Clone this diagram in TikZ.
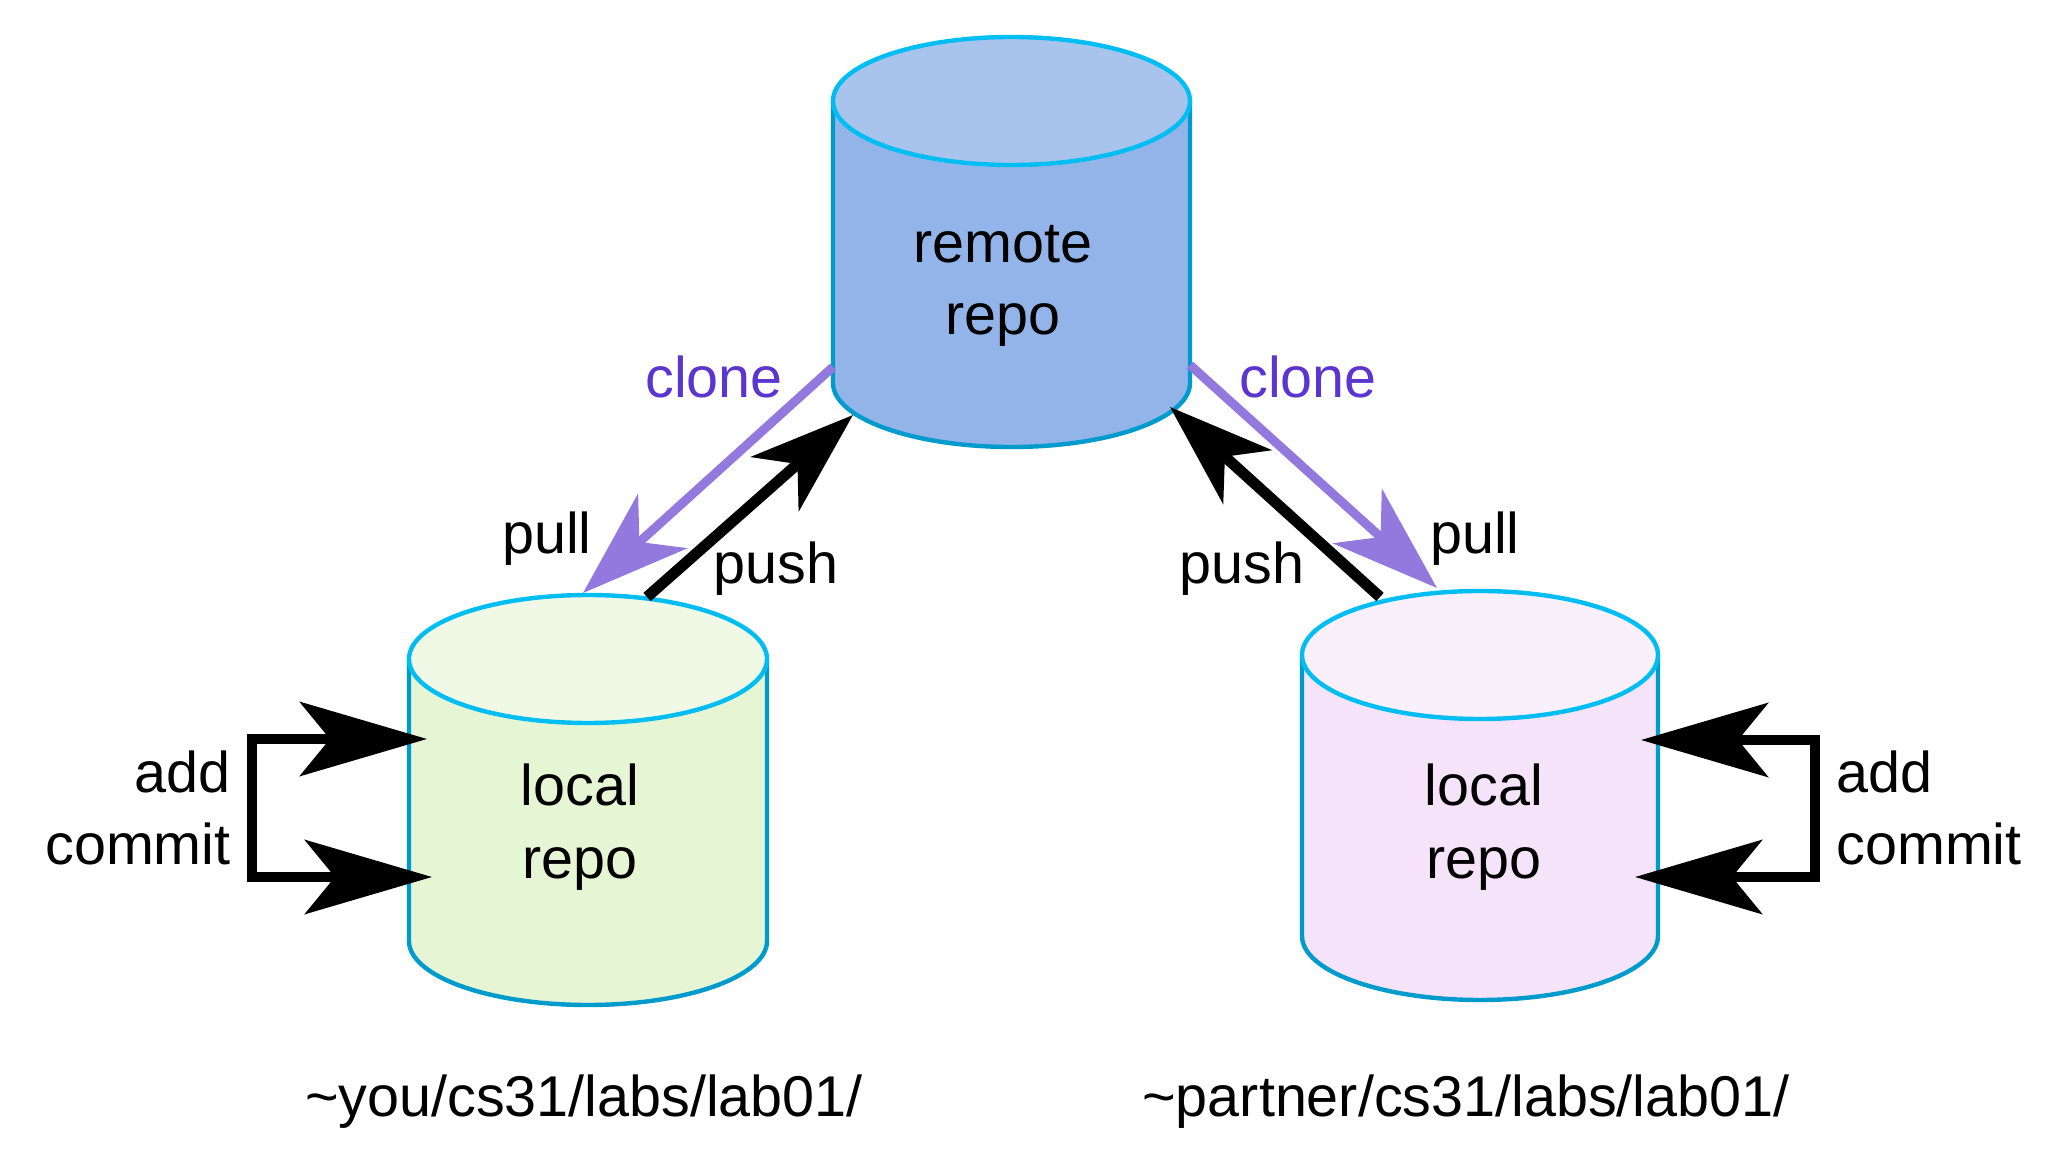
\documentclass[tikz,border=0pt]{standalone}
\usepackage{fontspec}
\setmainfont{Liberation Sans}
\usetikzlibrary{arrows.meta}
\definecolor{remBody}{HTML}{93B4E8}
\definecolor{remTop}{HTML}{A9C4EC}
\definecolor{youBody}{HTML}{E6F5D4}
\definecolor{youTop}{HTML}{F0F9E6}
\definecolor{parBody}{HTML}{F5E3F9}
\definecolor{parTop}{HTML}{FAF0FC}
\definecolor{topLine}{HTML}{00BEF2}
\definecolor{bodyLine}{HTML}{009BCD}
\definecolor{pullCol}{HTML}{9378DD}
\definecolor{cloneTxt}{HTML}{5A35CF}
\begin{document}
\begin{tikzpicture}[x=0.5pt,y=0.5pt,
  lbl/.style={font=\fontsize{28.75}{36}\selectfont, inner sep=0pt},
  bodyedge/.style={draw=bodyLine, line width=2.2pt},
  topedge/.style={draw=topLine, line width=2.2pt},
  pullarrow/.style={draw=pullCol, line width=4.5pt,
    -{Stealth[length=53.5pt, width=36.5pt, inset=15.5pt, fill=pullCol]}},
  pusharrow/.style={draw=black, line width=5.5pt,
    -{Stealth[length=52pt, width=36pt, inset=15pt]}},
  addarrow/.style={draw=black, line width=5pt, line join=miter,
    {Stealth[length=63.5pt, width=37pt, inset=15pt]}-{Stealth[length=63.5pt, width=37pt, inset=15pt]}}
]
\useasboundingbox (0,0) rectangle (2069,-1165);

% remote cylinder
\fill[remBody] (833,-101) -- (833,-383) arc[start angle=180, end angle=360, x radius=89.25pt, y radius=32pt] -- (1190,-101) -- cycle;
\draw[bodyedge] (833,-101) -- (833,-383) arc[start angle=180, end angle=360, x radius=89.25pt, y radius=32pt] -- (1190,-101);
\draw[topedge, fill=remTop] (1011.5,-101) ellipse[x radius=89.25pt, y radius=32pt];

% your local cylinder
\fill[youBody] (409,-659) -- (409,-941) arc[start angle=180, end angle=360, x radius=89.5pt, y radius=32pt] -- (767,-659) -- cycle;
\draw[bodyedge] (409,-659) -- (409,-941) arc[start angle=180, end angle=360, x radius=89.5pt, y radius=32pt] -- (767,-659);
\draw[topedge, fill=youTop] (588,-659) ellipse[x radius=89.5pt, y radius=32pt];

% partner local cylinder
\fill[parBody] (1302,-655) -- (1302,-936) arc[start angle=180, end angle=360, x radius=89pt, y radius=32pt] -- (1658,-655) -- cycle;
\draw[bodyedge] (1302,-655) -- (1302,-936) arc[start angle=180, end angle=360, x radius=89pt, y radius=32pt] -- (1658,-655);
\draw[topedge, fill=parTop] (1480,-655) ellipse[x radius=89pt, y radius=32pt];

% cylinder labels (base anchor = baseline of last line)
\node[lbl, align=center, anchor=base] (remote) at (1003,-335) {remote\\repo};
\node[lbl, align=center, anchor=base] (localyou) at (580,-878) {local\\repo};
\node[lbl, align=center, anchor=base] (localpar) at (1484,-878) {local\\repo};

% connector end points
\coordinate (remCloneL) at (833,-367);
\coordinate (youPull) at (583,-593);
\coordinate (youPush) at (647,-597);
\coordinate (remPushL) at (853,-415);
\coordinate (remCloneR) at (1190,-365);
\coordinate (parPull) at (1437,-588);
\coordinate (parPush) at (1380,-597);
\coordinate (remPushR) at (1170,-407);

\coordinate (youAddTip) at (427,-739);
\coordinate (youAddA) at (252,-739);
\coordinate (youAddB) at (252,-877);
\coordinate (youComTip) at (432,-877);
\coordinate (parAddTip) at (1641,-740);
\coordinate (parAddA) at (1815,-740);
\coordinate (parAddB) at (1815,-877);
\coordinate (parComTip) at (1635,-877);

% connectors
\draw[pullarrow] (remCloneL) -- (youPull);
\draw[pusharrow] (youPush) -- (remPushL);
\draw[pullarrow] (remCloneR) -- (parPull);
\draw[pusharrow] (parPush) -- (remPushR);
\draw[addarrow] (youAddTip) -- (youAddA) -- (youAddB) -- (youComTip);
\draw[addarrow] (parAddTip) -- (parAddA) -- (parAddB) -- (parComTip);

% connector labels
\node[lbl, text=cloneTxt, anchor=base] (cloneL) at (714,-398) {clone};
\node[lbl, text=cloneTxt, anchor=base] (cloneR) at (1308,-398) {clone};
\node[lbl, anchor=base] (pullL) at (547,-554) {pull};
\node[lbl, anchor=base] (pullR) at (1475,-554) {pull};
\node[lbl, anchor=base] (pushL) at (776,-584) {push};
\node[lbl, anchor=base] (pushR) at (1242,-584) {push};
\node[lbl, align=right, anchor=base east] (addL) at (231,-865) {add\\commit};
\node[lbl, align=left, anchor=base west] (addR) at (1836,-865) {add\\commit};

% paths
\node[lbl, anchor=base] (pathyou) at (584,-1116) {\textasciitilde you/cs31/labs/lab01/};
\node[lbl, anchor=base] (pathpar) at (1466,-1116) {\textasciitilde partner/cs31/labs/lab01/};
\end{tikzpicture}
\end{document}
